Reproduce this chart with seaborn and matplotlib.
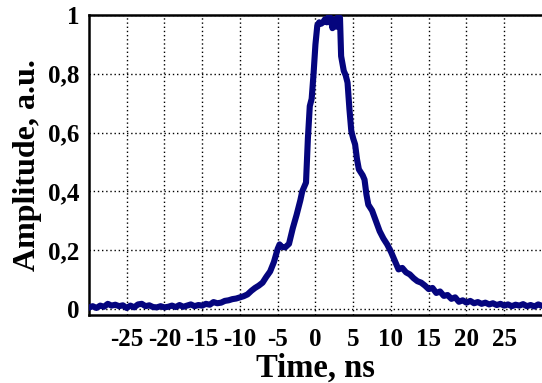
import numpy as np
import pandas as pd
import matplotlib
matplotlib.use("Agg")
import matplotlib.pyplot as plt
from matplotlib.ticker import MultipleLocator, FuncFormatter
import seaborn as sns

time_ns = [
    -30, -29.5, -29, -28.5, -28, -27.5, -27, -26.5, -26, -25.5,
    -25, -24.5, -24, -23.5, -23, -22.5, -22, -21.5, -21, -20.5,
    -20, -19.5, -19, -18.5, -18, -17.5, -17, -16.5, -16, -15.5,
    -15, -14.5, -14, -13.5, -13, -12.5, -12, -11.5, -11, -10.5,
    -10, -9.5, -9, -8.5, -8, -7.5, -7, -6.5, -6, -5.5,
    -5, -4.75, -4.5, -4, -3.5, -3, -2.5, -2, -1.75, -1.5,
    -1.25, -1.0, -0.75, -0.5, -0.25, 0, 0.25, 0.5, 0.75, 1.0,
    1.25, 1.5, 1.75, 2.0, 2.25, 2.5, 2.75, 3.0, 3.25, 3.4,
    3.75, 4.0, 4.25, 4.5, 4.75, 5.0, 5.25, 5.5, 5.75, 6.0,
    6.25, 6.5, 6.75, 7.0, 7.5, 8.0, 8.5, 9.0, 9.5, 10.0,
    10.5, 11.0, 11.5, 12.0, 12.5, 13.0, 13.5, 14.0, 14.5, 15.0,
    15.5, 16.0, 16.5, 17.0, 17.5, 18.0, 18.5, 19.0, 19.5, 20.0,
    20.5, 21.0, 21.5, 22.0, 22.5, 23.0, 23.5, 24.0, 24.5, 25.0,
    25.5, 26.0, 26.5, 27.0, 27.5, 28.0, 28.5, 29.0, 29.5, 30.0,
]
amplitude = [
    0.005, 0.010, 0.004, 0.012, 0.008, 0.018, 0.012, 0.015, 0.010, 0.013,
    0.004, 0.012, 0.006, 0.016, 0.018, 0.010, 0.013, 0.007, 0.006, 0.010,
    0.006, 0.008, 0.012, 0.007, 0.014, 0.008, 0.012, 0.016, 0.010, 0.014,
    0.012, 0.018, 0.015, 0.024, 0.020, 0.022, 0.028, 0.030, 0.034, 0.036,
    0.040, 0.044, 0.050, 0.062, 0.072, 0.080, 0.090, 0.110, 0.128, 0.160,
    0.205, 0.220, 0.212, 0.210, 0.222, 0.275, 0.320, 0.370, 0.400, 0.415,
    0.430, 0.580, 0.690, 0.715, 0.800, 0.900, 0.965, 0.975, 0.970, 0.975,
    0.985, 0.975, 0.995, 0.990, 0.955, 0.985, 0.960, 0.995, 0.990, 0.860,
    0.810, 0.795, 0.770, 0.680, 0.605, 0.580, 0.560, 0.510, 0.475, 0.465,
    0.455, 0.440, 0.390, 0.355, 0.335, 0.300, 0.265, 0.240, 0.220, 0.195,
    0.165, 0.135, 0.140, 0.125, 0.118, 0.105, 0.095, 0.090, 0.080, 0.068,
    0.072, 0.055, 0.060, 0.045, 0.048, 0.035, 0.040, 0.025, 0.030, 0.022,
    0.028, 0.020, 0.024, 0.018, 0.022, 0.016, 0.020, 0.014, 0.018, 0.012,
    0.016, 0.010, 0.015, 0.012, 0.017, 0.010, 0.014, 0.009, 0.016, 0.011,
]

x_major_ticks = [-25, -20, -15, -10, -5, 0, 5, 10, 15, 20, 25]
y_major_ticks = [0, 0.2, 0.4, 0.6, 0.8, 1.0]

df = pd.DataFrame({"Time": time_ns, "Amplitude": amplitude})

sns.set_style("white")
plt.rcParams['font.family'] = ['Liberation Serif', 'DejaVu Serif']
plt.rcParams['font.weight'] = 'bold'
plt.rcParams['text.color'] = 'black'
plt.rcParams['axes.labelcolor'] = 'black'

fig = plt.figure(figsize=(5.42, 3.83), dpi=100)
ax = fig.add_axes([0.164, 0.1775, 0.836, 0.7835])

sns.lineplot(data=df, x="Time", y="Amplitude", ax=ax, color="#05057e",
             linewidth=4.4, zorder=3)

ax.set_xlim(-30, 30)
ax.set_ylim(-0.02, 1.0)
ax.set_xticks(x_major_ticks)
ax.set_yticks(y_major_ticks)
ax.xaxis.set_minor_locator(MultipleLocator(1))
ax.yaxis.set_minor_locator(MultipleLocator(0.04))

def yfmt(v, pos):
    s = ("%g" % round(v, 2))
    return s.replace('.', ',')
ax.yaxis.set_major_formatter(FuncFormatter(yfmt))
ax.xaxis.set_major_formatter(FuncFormatter(lambda v, p: "%d" % v))

ax.grid(True, which='major', color='black', linestyle=(0, (1, 2)), linewidth=1.0)
ax.set_axisbelow(True)

for side in ['left', 'bottom', 'top']:
    ax.spines[side].set_color('black')
    ax.spines[side].set_linewidth(1.8)
ax.spines['right'].set_visible(False)

ax.tick_params(axis='x', which='major', pad=5)
ax.tick_params(axis='y', which='major', pad=3)
ax.tick_params(axis='both', which='major', direction='out', length=4, width=1.5,
               labelsize=18, colors='black')
ax.tick_params(axis='both', which='minor', direction='out', length=3, width=1.2,
               colors='black')
for lab in ax.get_xticklabels() + ax.get_yticklabels():
    lab.set_fontweight('bold')

ax.set_xlabel("Time, ns", fontsize=23.5, fontweight='bold', color='black')
ax.xaxis.set_label_coords(0.5, -0.125)
ax.set_ylabel("Amplitude, a.u.", fontsize=23, fontweight='bold', labelpad=4, color='black')

fig.savefig("out.png", dpi=100)
